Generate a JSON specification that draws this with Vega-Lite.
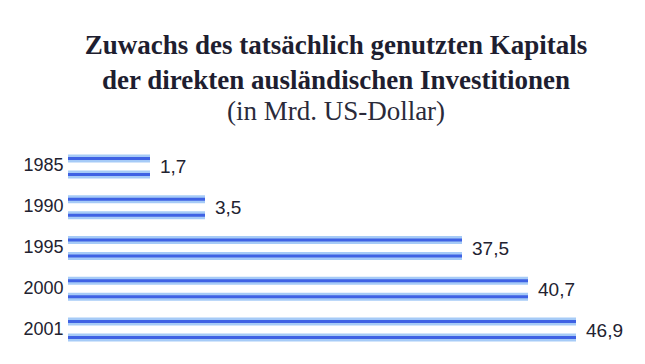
{
  "$schema": "https://vega.github.io/schema/vega-lite/v6.json",
  "autosize": {"type": "none"},
  "padding": {"left": 68, "top": 146, "right": 41, "bottom": 14},
  "width": 536,
  "height": 204,
  "background": "#ffffff",
  "config": {
    "view": {"stroke": null},
    "locale": {"number": {"decimal": ",", "thousands": ".", "grouping": [3], "currency": ["", " €"]}}
  },
  "title": {
    "text": ["Zuwachs des tatsächlich genutzten Kapitals", "der direkten ausländischen Investitionen"],
    "subtitle": "(in Mrd. US-Dollar)",
    "font": "Liberation Serif",
    "fontSize": 27,
    "fontWeight": "bold",
    "color": "#1e1e30",
    "lineHeight": 35,
    "subtitleFont": "Liberation Serif",
    "subtitleFontSize": 27,
    "subtitleFontWeight": "normal",
    "subtitleColor": "#2a2a3a",
    "subtitlePadding": 4,
    "anchor": "middle",
    "offset": 20
  },
  "data": {
    "values": [
      {"year": "1985", "value": 1.7},
      {"year": "1990", "value": 3.5},
      {"year": "1995", "value": 37.5},
      {"year": "2000", "value": 40.7},
      {"year": "2001", "value": 46.9}
    ]
  },
  "encoding": {
    "y": {
      "field": "year",
      "type": "ordinal",
      "sort": null,
      "scale": {"paddingInner": 0, "paddingOuter": 0},
      "axis": {
        "title": null,
        "domain": false,
        "ticks": false,
        "labelPadding": 5,
        "labelFont": "Liberation Sans",
        "labelFontSize": 18,
        "labelColor": "#222230"
      }
    },
    "x": {
      "field": "value",
      "type": "quantitative",
      "scale": {"domain": [0, 1.7, 3.5, 37.5, 40.7, 46.9], "range": [0, 82, 137, 394, 460, 508], "nice": false, "zero": false},
      "axis": null
    }
  },
  "layer": [
    {"mark": {"type": "bar", "size": 8, "yOffset": -8, "color": "#a6cbf7"}},
    {"mark": {"type": "bar", "size": 3, "yOffset": -8, "color": "#3f62e4"}},
    {"mark": {"type": "bar", "size": 8, "yOffset": 8, "color": "#a6cbf7"}},
    {"mark": {"type": "bar", "size": 3, "yOffset": 8, "color": "#3f62e4"}},
    {
      "mark": {"type": "text", "align": "left", "baseline": "middle", "dx": 10, "dy": 1, "font": "Liberation Sans", "fontSize": 19, "color": "#222230"},
      "encoding": {"text": {"field": "value", "type": "quantitative", "format": ".1f"}}
    }
  ]
}
